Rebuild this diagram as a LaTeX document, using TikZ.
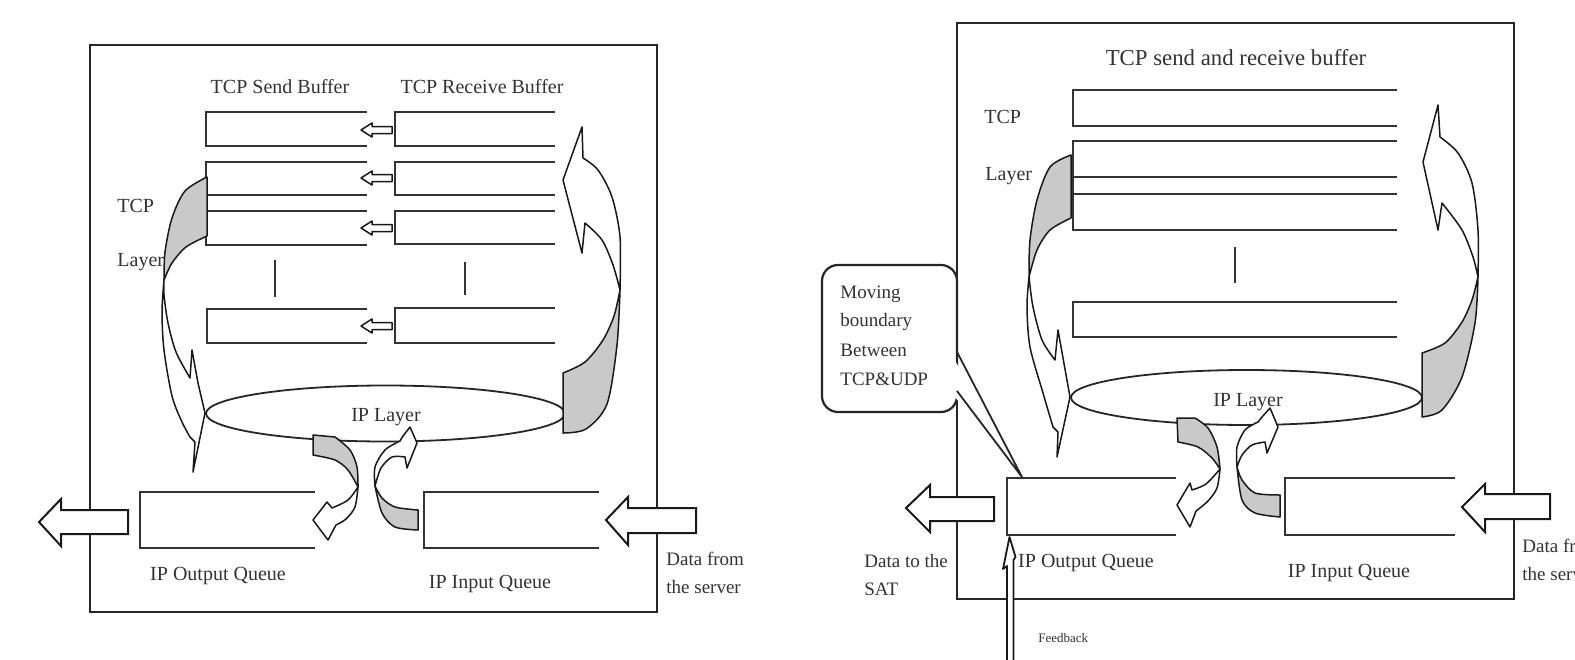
\documentclass[tikz,border=0pt]{standalone}
\usepackage{fontspec}
\setmainfont{Liberation Serif}
\begin{document}
\begin{tikzpicture}[x=0.5pt,y=-0.5pt,
  frame/.style={draw=black!85,line width=1.1pt},
  buf/.style={draw=black!80,line width=1.4pt},
  arr/.style={draw=black!90,line width=0.75pt,fill=white,line join=round},
  blk/.style={draw=black!90,line width=1pt,fill=white,line join=miter},
  garr/.style={draw=black!90,line width=0.75pt,fill=gray!42,line join=round},
  lbl/.style={text=black!80,inner sep=0pt,font=\fontsize{10}{12}\selectfont},
  slbl/.style={text=black!80,inner sep=0pt,font=\fontsize{9.5}{11}\selectfont},
]
\useasboundingbox (0,0) rectangle (1575,659);
\fill[white] (0,0) rectangle (1575,659);

% ================= LEFT PANEL =================
\draw[frame] (90,45) rectangle (657,612);

% send buffers
\draw[buf] (367,112) -| (206,146) -- (367,146);
\draw[buf] (367,162) -| (206,245) -- (367,245);
\draw[buf] (206,195) -- (367,195);
\draw[buf] (206,211) -- (367,211);
\draw[buf] (367,309) -| (207,343) -- (367,343);
% receive buffers
\draw[buf] (555,112) -| (395,146) -- (555,146);
\draw[buf] (555,162) -| (395,195) -- (555,195);
\draw[buf] (555,211) -| (395,244) -- (555,244);
\draw[buf] (555,308) -| (395,343) -- (555,343);
% small arrows
\foreach \yy in {130,178,228,326}{
  \filldraw[arr] (361,\yy) -- (372,\yy-7) -- (372,\yy-3.5) -- (392,\yy-3.5) -- (392,\yy+3.5) -- (372,\yy+3.5) -- (372,\yy+7) -- cycle;
}
% ticks
\draw[line width=1pt,black!80] (275,260) -- (275,297);
\draw[line width=1pt,black!80] (465,262) -- (465,295);

% IP layer ellipse
\draw[line width=0.9pt,black!85] (385.5,413.5) ellipse [x radius=89.75pt, y radius=14pt];

% queues
\draw[buf] (315,492) -| (140,548) -- (315,548);
\draw[buf] (599,492) -| (424,548) -- (599,548);

% labels
\node[lbl,anchor=base] (tsb) at (280,93) {TCP Send Buffer};
\node[lbl,anchor=base] (trb) at (482,93) {TCP Receive Buffer};
\node[lbl,anchor=base west] (tcpl) at (117,212) {TCP};
\node[lbl,anchor=base west] (layl) at (117,266) {Layer};
\node[lbl,anchor=base] (ipl) at (386,421) {IP Layer};
\node[lbl,anchor=base] (ipoq) at (218,580) {IP Output Queue};
\node[lbl,anchor=base] (ipiq) at (490,588) {IP Input Queue};
\node[slbl,anchor=base west] (dfs) at (666,565) {Data from};
\node[slbl,anchor=base west] (dfs2) at (666,593) {the server};

% left big curved arrow
\filldraw[garr] (207,177) -- (207,236) -- plot[smooth] coordinates {(207,236) (186,247) (172,263) (164,280)} -- plot[smooth] coordinates {(164,280) (165,252) (172,218) (185,191) (207,177)} -- cycle;
\filldraw[arr] plot[smooth] coordinates {(164,280) (162,312) (164,350) (172,396) (182,422) (190,437)} -- (195,442) -- (193,472) -- (205,413) -- (198,383) -- (192,350) -- (190,378) -- plot[smooth] coordinates {(190,378) (176,352) (168,323) (164,295) (164,280)} -- cycle;
% right big curved arrow
\filldraw[garr] (563,373) -- (563,433) -- plot[smooth] coordinates {(563,433) (586,429) (607,404) (617,345) (620,290)} -- plot[smooth] coordinates {(620,290) (614,316) (603,340) (585,362) (563,373)} -- cycle;
\filldraw[arr] plot[smooth] coordinates {(620,290) (620,237) (612,197) (598,170) (583,158)} -- (582,127) -- (563,180) -- (582,253) -- (585,223) -- plot[smooth] coordinates {(585,223) (602,240) (613,265) (620,290)} -- cycle;
% centre crossing arrows
\filldraw[garr] (313,435) -- (335,437) -- plot[smooth] coordinates {(335,437) (350,450) (357,467) (358,487)} -- plot[smooth] coordinates {(358,487) (348,470) (335,460) (313,455)} -- cycle;
\filldraw[arr] plot[smooth] coordinates {(358,487) (355,507) (346,519) (336,525)} -- (328,540) -- (313,520) -- (327,502) -- (332,508) -- plot[smooth] coordinates {(332,508) (348,500) (358,487)} -- cycle;
\filldraw[garr] (418,510) -- (418,530) -- plot[smooth] coordinates {(418,530) (395,527) (382,513) (375,486)} -- plot[smooth] coordinates {(375,486) (382,498) (395,507) (418,510)} -- cycle;
\filldraw[arr] plot[smooth] coordinates {(375,486) (375,467) (385,450) (400,441)} -- (403,436) -- (410,427) -- (417,443) -- (407,468) -- (405,457) -- plot[smooth] coordinates {(405,457) (392,457) (381,468) (375,486)} -- cycle;

% block arrows
\filldraw[blk] (39,522) -- (61,499) -- (61,510) -- (128,510) -- (128,534) -- (61,534) -- (61,546) -- cycle;
\filldraw[blk] (606,520) -- (628,497) -- (628,508) -- (696,508) -- (696,533) -- (628,533) -- (628,545) -- cycle;

% ================= RIGHT PANEL =================
\draw[frame] (957,23) rectangle (1514,599);

\draw[buf] (1397,90) -| (1073,126) -- (1397,126);
\draw[buf] (1397,141) -| (1073,230) -- (1397,230);
\draw[buf] (1073,177) -- (1397,177);
\draw[buf] (1073,194) -- (1397,194);
\draw[buf] (1397,302) -| (1073,337) -- (1397,337);
\draw[line width=1pt,black!80] (1235,247) -- (1235,283);

\draw[line width=0.9pt,black!85] (1246.5,397.5) ellipse [x radius=87.75pt, y radius=13.75pt];

\draw[buf] (1176,478) -| (1007,535) -- (1176,535);
\draw[buf] (1455,478) -| (1285,535) -- (1455,535);

\node[text=black!80,inner sep=0pt,font=\fontsize{11.4}{13}\selectfont,anchor=base] (title) at (1236,65) {TCP send and receive buffer};
\node[lbl,anchor=base west] (tcpr) at (984,123) {TCP};
\node[lbl,anchor=base west] (layr) at (985,180) {Layer};
\node[lbl,anchor=base] (iplr) at (1248,406) {IP Layer};
\node[lbl,anchor=base] (ipoqr) at (1086,567) {IP Output Queue};
\node[lbl,anchor=base] (ipiqr) at (1349,577) {IP Input Queue};
\node[slbl,anchor=base west] (dtt) at (864,567) {Data to the};
\node[slbl,anchor=base west] (sat) at (864,595) {SAT};
\node[slbl,anchor=base west] (dfr) at (1522,552) {Data from};
\node[slbl,anchor=base west] (dfr2) at (1522,580) {the server};
\node[text=black!80,inner sep=0pt,font=\fontsize{6.5}{8}\selectfont,anchor=base west] (fb) at (1038,642) {Feedback};

% callout
\draw[frame,fill=white,rounded corners=8pt] (822,265) rectangle (957,412);
\fill[white] (950,352) -- (1022,477) -- (950,391) -- cycle;
\draw[line width=0.9pt,black!85] (957,352) -- (1022,477) -- (957,391);
\node[slbl,anchor=base west] (mv) at (840,298) {Moving};
\node[slbl,anchor=base west] (bd) at (840,326) {boundary};
\node[slbl,anchor=base west] (bt) at (840,356) {Between};
\node[slbl,anchor=base west] (tu) at (840,385) {TCP\&UDP};

% left big curved arrow
\filldraw[garr] (1071,155) -- (1071,218) -- plot[smooth] coordinates {(1071,218) (1050,230) (1037,250) (1029,277)} -- plot[smooth] coordinates {(1029,277) (1030,240) (1037,200) (1050,167) (1071,155)} -- cycle;
\filldraw[arr] plot[smooth] coordinates {(1029,277) (1027,307) (1030,347) (1043,393) (1053,427)} -- (1058,432) -- (1057,457) -- (1070,397) -- (1058,330) -- (1055,360) -- plot[smooth] coordinates {(1055,360) (1042,340) (1033,307) (1029,277)} -- cycle;
% right big curved arrow
\filldraw[garr] (1422,353) -- (1422,417) -- plot[smooth] coordinates {(1422,417) (1442,410) (1462,377) (1475,323) (1478,277)} -- plot[smooth] coordinates {(1478,277) (1472,300) (1462,322) (1445,343) (1422,353)} -- cycle;
\filldraw[arr] plot[smooth] coordinates {(1478,277) (1478,230) (1472,183) (1458,153) (1440,137)} -- (1438,105) -- (1423,162) -- (1438,230) -- (1442,203) -- plot[smooth] coordinates {(1442,203) (1462,230) (1473,257) (1478,277)} -- cycle;
% centre crossing arrows
\filldraw[garr] (1177,418) -- (1195,418) -- plot[smooth] coordinates {(1195,418) (1208,428) (1217,447) (1220,469)} -- plot[smooth] coordinates {(1220,469) (1212,458) (1198,447) (1178,442)} -- cycle;
\filldraw[arr] plot[smooth] coordinates {(1220,469) (1217,488) (1208,501) (1196,511)} -- (1190,527) -- (1177,505) -- (1190,483) -- (1192,490) -- plot[smooth] coordinates {(1192,490) (1206,484) (1220,469)} -- cycle;
\filldraw[garr] (1280,495) -- (1280,517) -- plot[smooth] coordinates {(1280,517) (1255,513) (1242,500) (1237,467)} -- plot[smooth] coordinates {(1237,467) (1242,480) (1255,493) (1280,495)} -- cycle;
\filldraw[arr] plot[smooth] coordinates {(1237,467) (1237,447) (1245,430) (1258,422)} -- (1262,417) -- (1270,408) -- (1278,427) -- (1267,453) -- (1265,442) -- plot[smooth] coordinates {(1265,442) (1252,445) (1242,455) (1237,467)} -- cycle;

% block arrows
\filldraw[blk] (906,508) -- (930,485) -- (930,497) -- (994,497) -- (994,521) -- (930,521) -- (930,532) -- cycle;
\filldraw[blk] (1462,507) -- (1485,484) -- (1485,494) -- (1550,494) -- (1550,519) -- (1485,519) -- (1485,532) -- cycle;

% feedback arrow
\filldraw[arr,line width=0.9pt] (1007,662) -- (1007,566) -- (1003,569) -- (1009.5,537) -- (1015.5,557) -- (1013.5,560) -- (1013.5,662);
\end{tikzpicture}
\end{document}
